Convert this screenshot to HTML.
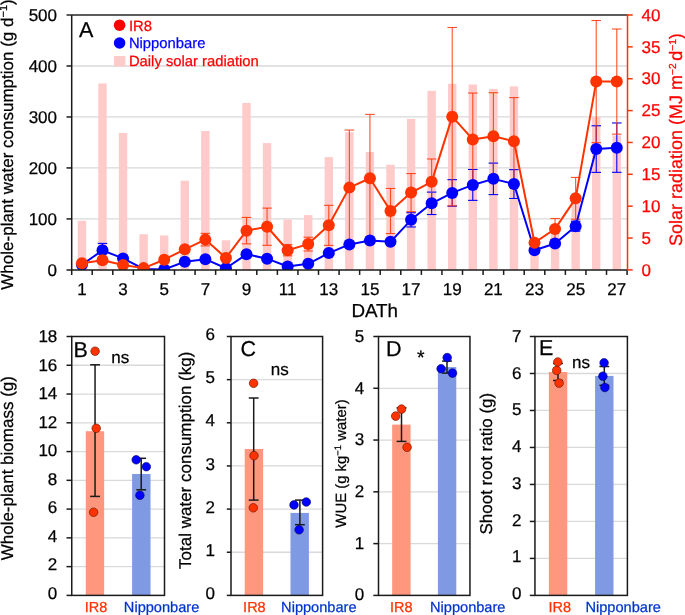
<!DOCTYPE html>
<html><head><meta charset="utf-8"><style>
html,body{margin:0;padding:0;background:#fff;width:685px;height:615px;overflow:hidden;}
body{position:relative;font-family:"Liberation Sans", sans-serif;}
svg text{text-rendering:geometricPrecision;}
</style></head><body>
<div style="position:absolute;left:0;top:0;width:685px;height:615px;will-change:transform"><svg width="685" height="615" viewBox="0 0 685 615" style="position:absolute;left:0;top:0;font-family:&quot;Liberation Sans&quot;, sans-serif"><defs><clipPath id="pa"><rect x="71.7" y="15.0" width="555.8" height="254.89999999999998"/></clipPath></defs><line x1="71.7" y1="218.92" x2="627.5" y2="218.92" stroke="#D9D9D9" stroke-width="1.3"/><line x1="71.7" y1="167.94" x2="627.5" y2="167.94" stroke="#D9D9D9" stroke-width="1.3"/><line x1="71.7" y1="116.96" x2="627.5" y2="116.96" stroke="#D9D9D9" stroke-width="1.3"/><line x1="71.7" y1="65.98" x2="627.5" y2="65.98" stroke="#D9D9D9" stroke-width="1.3"/><rect x="77.73" y="220.83" width="8.4" height="49.07" fill="#FFCACA"/><rect x="98.30" y="83.50" width="8.4" height="186.40" fill="#FFCACA"/><rect x="118.87" y="132.89" width="8.4" height="137.01" fill="#FFCACA"/><rect x="139.44" y="234.21" width="8.4" height="35.69" fill="#FFCACA"/><rect x="160.01" y="235.49" width="8.4" height="34.41" fill="#FFCACA"/><rect x="180.59" y="180.69" width="8.4" height="89.21" fill="#FFCACA"/><rect x="201.16" y="130.98" width="8.4" height="138.92" fill="#FFCACA"/><rect x="221.73" y="240.27" width="8.4" height="29.63" fill="#FFCACA"/><rect x="242.30" y="102.94" width="8.4" height="166.96" fill="#FFCACA"/><rect x="262.87" y="143.09" width="8.4" height="126.81" fill="#FFCACA"/><rect x="283.45" y="219.56" width="8.4" height="50.34" fill="#FFCACA"/><rect x="304.02" y="215.10" width="8.4" height="54.80" fill="#FFCACA"/><rect x="324.59" y="157.11" width="8.4" height="112.79" fill="#FFCACA"/><rect x="345.16" y="132.25" width="8.4" height="137.65" fill="#FFCACA"/><rect x="365.73" y="152.01" width="8.4" height="117.89" fill="#FFCACA"/><rect x="386.31" y="164.75" width="8.4" height="105.15" fill="#FFCACA"/><rect x="406.88" y="118.87" width="8.4" height="151.03" fill="#FFCACA"/><rect x="427.45" y="90.83" width="8.4" height="179.07" fill="#FFCACA"/><rect x="448.02" y="83.82" width="8.4" height="186.08" fill="#FFCACA"/><rect x="468.59" y="84.46" width="8.4" height="185.44" fill="#FFCACA"/><rect x="489.17" y="88.92" width="8.4" height="180.98" fill="#FFCACA"/><rect x="509.74" y="86.37" width="8.4" height="183.53" fill="#FFCACA"/><rect x="530.31" y="245.05" width="8.4" height="24.85" fill="#FFCACA"/><rect x="550.88" y="228.48" width="8.4" height="41.42" fill="#FFCACA"/><rect x="571.45" y="198.53" width="8.4" height="71.37" fill="#FFCACA"/><rect x="592.03" y="116.96" width="8.4" height="152.94" fill="#FFCACA"/><rect x="612.60" y="135.44" width="8.4" height="134.46" fill="#FFCACA"/><line x1="102.50" y1="243.39" x2="102.50" y2="257.26" stroke="#0000FF" stroke-width="1.1"/><line x1="97.70" y1="243.39" x2="107.30" y2="243.39" stroke="#0000FF" stroke-width="1.1"/><line x1="97.70" y1="257.26" x2="107.30" y2="257.26" stroke="#0000FF" stroke-width="1.1"/><line x1="411.08" y1="212.70" x2="411.08" y2="226.97" stroke="#0000FF" stroke-width="1.1"/><line x1="406.28" y1="212.70" x2="415.88" y2="212.70" stroke="#0000FF" stroke-width="1.1"/><line x1="406.28" y1="226.97" x2="415.88" y2="226.97" stroke="#0000FF" stroke-width="1.1"/><line x1="431.65" y1="192.10" x2="431.65" y2="214.54" stroke="#0000FF" stroke-width="1.1"/><line x1="426.85" y1="192.10" x2="436.45" y2="192.10" stroke="#0000FF" stroke-width="1.1"/><line x1="426.85" y1="214.54" x2="436.45" y2="214.54" stroke="#0000FF" stroke-width="1.1"/><line x1="452.22" y1="179.67" x2="452.22" y2="206.17" stroke="#0000FF" stroke-width="1.1"/><line x1="447.42" y1="179.67" x2="457.02" y2="179.67" stroke="#0000FF" stroke-width="1.1"/><line x1="447.42" y1="206.17" x2="457.02" y2="206.17" stroke="#0000FF" stroke-width="1.1"/><line x1="472.79" y1="169.47" x2="472.79" y2="200.36" stroke="#0000FF" stroke-width="1.1"/><line x1="467.99" y1="169.47" x2="477.59" y2="169.47" stroke="#0000FF" stroke-width="1.1"/><line x1="467.99" y1="200.36" x2="477.59" y2="200.36" stroke="#0000FF" stroke-width="1.1"/><line x1="493.37" y1="163.10" x2="493.37" y2="194.60" stroke="#0000FF" stroke-width="1.1"/><line x1="488.57" y1="163.10" x2="498.17" y2="163.10" stroke="#0000FF" stroke-width="1.1"/><line x1="488.57" y1="194.60" x2="498.17" y2="194.60" stroke="#0000FF" stroke-width="1.1"/><line x1="513.94" y1="169.62" x2="513.94" y2="198.48" stroke="#0000FF" stroke-width="1.1"/><line x1="509.14" y1="169.62" x2="518.74" y2="169.62" stroke="#0000FF" stroke-width="1.1"/><line x1="509.14" y1="198.48" x2="518.74" y2="198.48" stroke="#0000FF" stroke-width="1.1"/><line x1="575.65" y1="221.27" x2="575.65" y2="231.16" stroke="#0000FF" stroke-width="1.1"/><line x1="570.85" y1="221.27" x2="580.45" y2="221.27" stroke="#0000FF" stroke-width="1.1"/><line x1="570.85" y1="231.16" x2="580.45" y2="231.16" stroke="#0000FF" stroke-width="1.1"/><line x1="596.23" y1="125.78" x2="596.23" y2="172.38" stroke="#0000FF" stroke-width="1.1"/><line x1="591.43" y1="125.78" x2="601.03" y2="125.78" stroke="#0000FF" stroke-width="1.1"/><line x1="591.43" y1="172.38" x2="601.03" y2="172.38" stroke="#0000FF" stroke-width="1.1"/><line x1="616.80" y1="122.98" x2="616.80" y2="172.32" stroke="#0000FF" stroke-width="1.1"/><line x1="612.00" y1="122.98" x2="621.60" y2="122.98" stroke="#0000FF" stroke-width="1.1"/><line x1="612.00" y1="172.32" x2="621.60" y2="172.32" stroke="#0000FF" stroke-width="1.1"/><g stroke-opacity="0.85"><line x1="205.36" y1="233.35" x2="205.36" y2="245.89" stroke="#FF3300" stroke-width="1.1"/><line x1="200.56" y1="233.35" x2="210.16" y2="233.35" stroke="#FF3300" stroke-width="1.1"/><line x1="200.56" y1="245.89" x2="210.16" y2="245.89" stroke="#FF3300" stroke-width="1.1"/><line x1="246.50" y1="217.44" x2="246.50" y2="243.85" stroke="#FF3300" stroke-width="1.1"/><line x1="241.70" y1="217.44" x2="251.30" y2="217.44" stroke="#FF3300" stroke-width="1.1"/><line x1="241.70" y1="243.85" x2="251.30" y2="243.85" stroke="#FF3300" stroke-width="1.1"/><line x1="267.07" y1="208.11" x2="267.07" y2="245.33" stroke="#FF3300" stroke-width="1.1"/><line x1="262.27" y1="208.11" x2="271.87" y2="208.11" stroke="#FF3300" stroke-width="1.1"/><line x1="262.27" y1="245.33" x2="271.87" y2="245.33" stroke="#FF3300" stroke-width="1.1"/><line x1="287.65" y1="244.61" x2="287.65" y2="255.83" stroke="#FF3300" stroke-width="1.1"/><line x1="282.85" y1="244.61" x2="292.45" y2="244.61" stroke="#FF3300" stroke-width="1.1"/><line x1="282.85" y1="255.83" x2="292.45" y2="255.83" stroke="#FF3300" stroke-width="1.1"/><line x1="308.22" y1="237.22" x2="308.22" y2="250.99" stroke="#FF3300" stroke-width="1.1"/><line x1="303.42" y1="237.22" x2="313.02" y2="237.22" stroke="#FF3300" stroke-width="1.1"/><line x1="303.42" y1="250.99" x2="313.02" y2="250.99" stroke="#FF3300" stroke-width="1.1"/><line x1="328.79" y1="205.31" x2="328.79" y2="245.38" stroke="#FF3300" stroke-width="1.1"/><line x1="323.99" y1="205.31" x2="333.59" y2="205.31" stroke="#FF3300" stroke-width="1.1"/><line x1="323.99" y1="245.38" x2="333.59" y2="245.38" stroke="#FF3300" stroke-width="1.1"/><line x1="349.36" y1="130.06" x2="349.36" y2="245.17" stroke="#FF3300" stroke-width="1.1"/><line x1="344.56" y1="130.06" x2="354.16" y2="130.06" stroke="#FF3300" stroke-width="1.1"/><line x1="344.56" y1="245.17" x2="354.16" y2="245.17" stroke="#FF3300" stroke-width="1.1"/><line x1="369.93" y1="114.41" x2="369.93" y2="242.06" stroke="#FF3300" stroke-width="1.1"/><line x1="365.13" y1="114.41" x2="374.73" y2="114.41" stroke="#FF3300" stroke-width="1.1"/><line x1="365.13" y1="242.06" x2="374.73" y2="242.06" stroke="#FF3300" stroke-width="1.1"/><line x1="390.51" y1="188.48" x2="390.51" y2="233.55" stroke="#FF3300" stroke-width="1.1"/><line x1="385.71" y1="188.48" x2="395.31" y2="188.48" stroke="#FF3300" stroke-width="1.1"/><line x1="385.71" y1="233.55" x2="395.31" y2="233.55" stroke="#FF3300" stroke-width="1.1"/><line x1="411.08" y1="173.55" x2="411.08" y2="211.68" stroke="#FF3300" stroke-width="1.1"/><line x1="406.28" y1="173.55" x2="415.88" y2="173.55" stroke="#FF3300" stroke-width="1.1"/><line x1="406.28" y1="211.68" x2="415.88" y2="211.68" stroke="#FF3300" stroke-width="1.1"/><line x1="431.65" y1="158.97" x2="431.65" y2="204.75" stroke="#FF3300" stroke-width="1.1"/><line x1="426.85" y1="158.97" x2="436.45" y2="158.97" stroke="#FF3300" stroke-width="1.1"/><line x1="426.85" y1="204.75" x2="436.45" y2="204.75" stroke="#FF3300" stroke-width="1.1"/><line x1="452.22" y1="27.49" x2="452.22" y2="205.82" stroke="#FF3300" stroke-width="1.1"/><line x1="447.42" y1="27.49" x2="457.02" y2="27.49" stroke="#FF3300" stroke-width="1.1"/><line x1="447.42" y1="205.82" x2="457.02" y2="205.82" stroke="#FF3300" stroke-width="1.1"/><line x1="472.79" y1="93.05" x2="472.79" y2="185.83" stroke="#FF3300" stroke-width="1.1"/><line x1="467.99" y1="93.05" x2="477.59" y2="93.05" stroke="#FF3300" stroke-width="1.1"/><line x1="467.99" y1="185.83" x2="477.59" y2="185.83" stroke="#FF3300" stroke-width="1.1"/><line x1="493.37" y1="92.69" x2="493.37" y2="179.97" stroke="#FF3300" stroke-width="1.1"/><line x1="488.57" y1="92.69" x2="498.17" y2="92.69" stroke="#FF3300" stroke-width="1.1"/><line x1="488.57" y1="179.97" x2="498.17" y2="179.97" stroke="#FF3300" stroke-width="1.1"/><line x1="513.94" y1="97.59" x2="513.94" y2="184.76" stroke="#FF3300" stroke-width="1.1"/><line x1="509.14" y1="97.59" x2="518.74" y2="97.59" stroke="#FF3300" stroke-width="1.1"/><line x1="509.14" y1="184.76" x2="518.74" y2="184.76" stroke="#FF3300" stroke-width="1.1"/><line x1="555.08" y1="218.51" x2="555.08" y2="239.31" stroke="#FF3300" stroke-width="1.1"/><line x1="550.28" y1="218.51" x2="559.88" y2="218.51" stroke="#FF3300" stroke-width="1.1"/><line x1="550.28" y1="239.31" x2="559.88" y2="239.31" stroke="#FF3300" stroke-width="1.1"/><line x1="575.65" y1="177.42" x2="575.65" y2="219.23" stroke="#FF3300" stroke-width="1.1"/><line x1="570.85" y1="177.42" x2="580.45" y2="177.42" stroke="#FF3300" stroke-width="1.1"/><line x1="570.85" y1="219.23" x2="580.45" y2="219.23" stroke="#FF3300" stroke-width="1.1"/><line x1="596.23" y1="20.51" x2="596.23" y2="142.65" stroke="#FF3300" stroke-width="1.1"/><line x1="591.43" y1="20.51" x2="601.03" y2="20.51" stroke="#FF3300" stroke-width="1.1"/><line x1="591.43" y1="142.65" x2="601.03" y2="142.65" stroke="#FF3300" stroke-width="1.1"/><line x1="616.80" y1="29.02" x2="616.80" y2="134.14" stroke="#FF3300" stroke-width="1.1"/><line x1="612.00" y1="29.02" x2="621.60" y2="29.02" stroke="#FF3300" stroke-width="1.1"/><line x1="612.00" y1="134.14" x2="621.60" y2="134.14" stroke="#FF3300" stroke-width="1.1"/></g><g clip-path="url(#pa)"><polyline points="81.93,264.80 102.50,250.32 123.07,258.43 143.64,268.88 164.21,269.39 184.79,261.79 205.36,259.19 225.93,268.22 246.50,254.30 267.07,258.68 287.65,266.54 308.22,263.78 328.79,253.08 349.36,244.41 369.93,240.54 390.51,241.86 411.08,219.84 431.65,203.32 452.22,192.92 472.79,184.92 493.37,178.85 513.94,184.05 534.51,250.32 555.08,243.49 575.65,226.21 596.23,149.08 616.80,147.65" fill="none" stroke="#0000FF" stroke-width="2.0" stroke-linejoin="round"/><circle cx="81.93" cy="264.80" r="6" fill="#0000FF"/><circle cx="102.50" cy="250.32" r="6" fill="#0000FF"/><circle cx="123.07" cy="258.43" r="6" fill="#0000FF"/><circle cx="143.64" cy="268.88" r="6" fill="#0000FF"/><circle cx="164.21" cy="269.39" r="6" fill="#0000FF"/><circle cx="184.79" cy="261.79" r="6" fill="#0000FF"/><circle cx="205.36" cy="259.19" r="6" fill="#0000FF"/><circle cx="225.93" cy="268.22" r="6" fill="#0000FF"/><circle cx="246.50" cy="254.30" r="6" fill="#0000FF"/><circle cx="267.07" cy="258.68" r="6" fill="#0000FF"/><circle cx="287.65" cy="266.54" r="6" fill="#0000FF"/><circle cx="308.22" cy="263.78" r="6" fill="#0000FF"/><circle cx="328.79" cy="253.08" r="6" fill="#0000FF"/><circle cx="349.36" cy="244.41" r="6" fill="#0000FF"/><circle cx="369.93" cy="240.54" r="6" fill="#0000FF"/><circle cx="390.51" cy="241.86" r="6" fill="#0000FF"/><circle cx="411.08" cy="219.84" r="6" fill="#0000FF"/><circle cx="431.65" cy="203.32" r="6" fill="#0000FF"/><circle cx="452.22" cy="192.92" r="6" fill="#0000FF"/><circle cx="472.79" cy="184.92" r="6" fill="#0000FF"/><circle cx="493.37" cy="178.85" r="6" fill="#0000FF"/><circle cx="513.94" cy="184.05" r="6" fill="#0000FF"/><circle cx="534.51" cy="250.32" r="6" fill="#0000FF"/><circle cx="555.08" cy="243.49" r="6" fill="#0000FF"/><circle cx="575.65" cy="226.21" r="6" fill="#0000FF"/><circle cx="596.23" cy="149.08" r="6" fill="#0000FF"/><circle cx="616.80" cy="147.65" r="6" fill="#0000FF"/><polyline points="81.93,263.27 102.50,260.21 123.07,265.01 143.64,268.12 164.21,259.70 184.79,249.30 205.36,239.62 225.93,257.92 246.50,230.65 267.07,226.72 287.65,250.22 308.22,244.10 328.79,225.34 349.36,187.62 369.93,178.24 390.51,211.02 411.08,192.61 431.65,181.86 452.22,116.65 472.79,139.44 493.37,136.33 513.94,141.18 534.51,242.73 555.08,228.91 575.65,198.32 596.23,81.58 616.80,81.58" fill="none" stroke="#FF3300" stroke-width="2.0" stroke-linejoin="round"/><circle cx="81.93" cy="263.27" r="6" fill="#FF3300"/><circle cx="102.50" cy="260.21" r="6" fill="#FF3300"/><circle cx="123.07" cy="265.01" r="6" fill="#FF3300"/><circle cx="143.64" cy="268.12" r="6" fill="#FF3300"/><circle cx="164.21" cy="259.70" r="6" fill="#FF3300"/><circle cx="184.79" cy="249.30" r="6" fill="#FF3300"/><circle cx="205.36" cy="239.62" r="6" fill="#FF3300"/><circle cx="225.93" cy="257.92" r="6" fill="#FF3300"/><circle cx="246.50" cy="230.65" r="6" fill="#FF3300"/><circle cx="267.07" cy="226.72" r="6" fill="#FF3300"/><circle cx="287.65" cy="250.22" r="6" fill="#FF3300"/><circle cx="308.22" cy="244.10" r="6" fill="#FF3300"/><circle cx="328.79" cy="225.34" r="6" fill="#FF3300"/><circle cx="349.36" cy="187.62" r="6" fill="#FF3300"/><circle cx="369.93" cy="178.24" r="6" fill="#FF3300"/><circle cx="390.51" cy="211.02" r="6" fill="#FF3300"/><circle cx="411.08" cy="192.61" r="6" fill="#FF3300"/><circle cx="431.65" cy="181.86" r="6" fill="#FF3300"/><circle cx="452.22" cy="116.65" r="6" fill="#FF3300"/><circle cx="472.79" cy="139.44" r="6" fill="#FF3300"/><circle cx="493.37" cy="136.33" r="6" fill="#FF3300"/><circle cx="513.94" cy="141.18" r="6" fill="#FF3300"/><circle cx="534.51" cy="242.73" r="6" fill="#FF3300"/><circle cx="555.08" cy="228.91" r="6" fill="#FF3300"/><circle cx="575.65" cy="198.32" r="6" fill="#FF3300"/><circle cx="596.23" cy="81.58" r="6" fill="#FF3300"/><circle cx="616.80" cy="81.58" r="6" fill="#FF3300"/></g><line x1="66.5" y1="15.0" x2="627.5" y2="15.0" stroke="#262626" stroke-width="1.5"/><line x1="71.7" y1="15.0" x2="71.7" y2="274.9" stroke="#1a1a1a" stroke-width="1.5"/><line x1="66.5" y1="269.9" x2="627.5" y2="269.9" stroke="#1a1a1a" stroke-width="1.5"/><line x1="66.5" y1="218.92" x2="71.7" y2="218.92" stroke="#1a1a1a" stroke-width="1.5"/><line x1="66.5" y1="167.94" x2="71.7" y2="167.94" stroke="#1a1a1a" stroke-width="1.5"/><line x1="66.5" y1="116.96" x2="71.7" y2="116.96" stroke="#1a1a1a" stroke-width="1.5"/><line x1="66.5" y1="65.98" x2="71.7" y2="65.98" stroke="#1a1a1a" stroke-width="1.5"/><line x1="92.21" y1="269.9" x2="92.21" y2="274.9" stroke="#1a1a1a" stroke-width="1.5"/><line x1="112.78" y1="269.9" x2="112.78" y2="274.9" stroke="#1a1a1a" stroke-width="1.5"/><line x1="133.36" y1="269.9" x2="133.36" y2="274.9" stroke="#1a1a1a" stroke-width="1.5"/><line x1="153.93" y1="269.9" x2="153.93" y2="274.9" stroke="#1a1a1a" stroke-width="1.5"/><line x1="174.50" y1="269.9" x2="174.50" y2="274.9" stroke="#1a1a1a" stroke-width="1.5"/><line x1="195.07" y1="269.9" x2="195.07" y2="274.9" stroke="#1a1a1a" stroke-width="1.5"/><line x1="215.64" y1="269.9" x2="215.64" y2="274.9" stroke="#1a1a1a" stroke-width="1.5"/><line x1="236.22" y1="269.9" x2="236.22" y2="274.9" stroke="#1a1a1a" stroke-width="1.5"/><line x1="256.79" y1="269.9" x2="256.79" y2="274.9" stroke="#1a1a1a" stroke-width="1.5"/><line x1="277.36" y1="269.9" x2="277.36" y2="274.9" stroke="#1a1a1a" stroke-width="1.5"/><line x1="297.93" y1="269.9" x2="297.93" y2="274.9" stroke="#1a1a1a" stroke-width="1.5"/><line x1="318.50" y1="269.9" x2="318.50" y2="274.9" stroke="#1a1a1a" stroke-width="1.5"/><line x1="339.08" y1="269.9" x2="339.08" y2="274.9" stroke="#1a1a1a" stroke-width="1.5"/><line x1="359.65" y1="269.9" x2="359.65" y2="274.9" stroke="#1a1a1a" stroke-width="1.5"/><line x1="380.22" y1="269.9" x2="380.22" y2="274.9" stroke="#1a1a1a" stroke-width="1.5"/><line x1="400.79" y1="269.9" x2="400.79" y2="274.9" stroke="#1a1a1a" stroke-width="1.5"/><line x1="421.36" y1="269.9" x2="421.36" y2="274.9" stroke="#1a1a1a" stroke-width="1.5"/><line x1="441.94" y1="269.9" x2="441.94" y2="274.9" stroke="#1a1a1a" stroke-width="1.5"/><line x1="462.51" y1="269.9" x2="462.51" y2="274.9" stroke="#1a1a1a" stroke-width="1.5"/><line x1="483.08" y1="269.9" x2="483.08" y2="274.9" stroke="#1a1a1a" stroke-width="1.5"/><line x1="503.65" y1="269.9" x2="503.65" y2="274.9" stroke="#1a1a1a" stroke-width="1.5"/><line x1="524.22" y1="269.9" x2="524.22" y2="274.9" stroke="#1a1a1a" stroke-width="1.5"/><line x1="544.80" y1="269.9" x2="544.80" y2="274.9" stroke="#1a1a1a" stroke-width="1.5"/><line x1="565.37" y1="269.9" x2="565.37" y2="274.9" stroke="#1a1a1a" stroke-width="1.5"/><line x1="585.94" y1="269.9" x2="585.94" y2="274.9" stroke="#1a1a1a" stroke-width="1.5"/><line x1="606.51" y1="269.9" x2="606.51" y2="274.9" stroke="#1a1a1a" stroke-width="1.5"/><line x1="627.08" y1="269.9" x2="627.08" y2="274.9" stroke="#1a1a1a" stroke-width="1.5"/><line x1="627.5" y1="14.3" x2="627.5" y2="270.59999999999997" stroke="#FF3300" stroke-width="1.5"/><line x1="627.5" y1="269.90" x2="632.7" y2="269.90" stroke="#FF3300" stroke-width="1.5"/><line x1="627.5" y1="238.04" x2="632.7" y2="238.04" stroke="#FF3300" stroke-width="1.5"/><line x1="627.5" y1="206.17" x2="632.7" y2="206.17" stroke="#FF3300" stroke-width="1.5"/><line x1="627.5" y1="174.31" x2="632.7" y2="174.31" stroke="#FF3300" stroke-width="1.5"/><line x1="627.5" y1="142.45" x2="632.7" y2="142.45" stroke="#FF3300" stroke-width="1.5"/><line x1="627.5" y1="110.59" x2="632.7" y2="110.59" stroke="#FF3300" stroke-width="1.5"/><line x1="627.5" y1="78.72" x2="632.7" y2="78.72" stroke="#FF3300" stroke-width="1.5"/><line x1="627.5" y1="46.86" x2="632.7" y2="46.86" stroke="#FF3300" stroke-width="1.5"/><line x1="627.5" y1="15.00" x2="632.7" y2="15.00" stroke="#FF3300" stroke-width="1.5"/><text x="57.0" y="275.60" font-size="17" text-anchor="end" fill="#000" stroke="#000" stroke-width="0.25" stroke-linejoin="round">0</text><text x="57.0" y="224.62" font-size="17" text-anchor="end" fill="#000" stroke="#000" stroke-width="0.25" stroke-linejoin="round">100</text><text x="57.0" y="173.64" font-size="17" text-anchor="end" fill="#000" stroke="#000" stroke-width="0.25" stroke-linejoin="round">200</text><text x="57.0" y="122.66" font-size="17" text-anchor="end" fill="#000" stroke="#000" stroke-width="0.25" stroke-linejoin="round">300</text><text x="57.0" y="71.68" font-size="17" text-anchor="end" fill="#000" stroke="#000" stroke-width="0.25" stroke-linejoin="round">400</text><text x="57.0" y="20.70" font-size="17" text-anchor="end" fill="#000" stroke="#000" stroke-width="0.25" stroke-linejoin="round">500</text><text x="641.5" y="275.60" font-size="17" fill="#FF0000" stroke="#FF0000" stroke-width="0.25" stroke-linejoin="round">0</text><text x="641.5" y="243.74" font-size="17" fill="#FF0000" stroke="#FF0000" stroke-width="0.25" stroke-linejoin="round">5</text><text x="641.5" y="211.87" font-size="17" fill="#FF0000" stroke="#FF0000" stroke-width="0.25" stroke-linejoin="round">10</text><text x="641.5" y="180.01" font-size="17" fill="#FF0000" stroke="#FF0000" stroke-width="0.25" stroke-linejoin="round">15</text><text x="641.5" y="148.15" font-size="17" fill="#FF0000" stroke="#FF0000" stroke-width="0.25" stroke-linejoin="round">20</text><text x="641.5" y="116.29" font-size="17" fill="#FF0000" stroke="#FF0000" stroke-width="0.25" stroke-linejoin="round">25</text><text x="641.5" y="84.42" font-size="17" fill="#FF0000" stroke="#FF0000" stroke-width="0.25" stroke-linejoin="round">30</text><text x="641.5" y="52.56" font-size="17" fill="#FF0000" stroke="#FF0000" stroke-width="0.25" stroke-linejoin="round">35</text><text x="641.5" y="20.70" font-size="17" fill="#FF0000" stroke="#FF0000" stroke-width="0.25" stroke-linejoin="round">40</text><text x="81.93" y="295.1" font-size="17" text-anchor="middle" fill="#000" stroke="#000" stroke-width="0.25" stroke-linejoin="round">1</text><text x="123.07" y="295.1" font-size="17" text-anchor="middle" fill="#000" stroke="#000" stroke-width="0.25" stroke-linejoin="round">3</text><text x="164.21" y="295.1" font-size="17" text-anchor="middle" fill="#000" stroke="#000" stroke-width="0.25" stroke-linejoin="round">5</text><text x="205.36" y="295.1" font-size="17" text-anchor="middle" fill="#000" stroke="#000" stroke-width="0.25" stroke-linejoin="round">7</text><text x="246.50" y="295.1" font-size="17" text-anchor="middle" fill="#000" stroke="#000" stroke-width="0.25" stroke-linejoin="round">9</text><text x="287.65" y="295.1" font-size="17" text-anchor="middle" fill="#000" stroke="#000" stroke-width="0.25" stroke-linejoin="round">11</text><text x="328.79" y="295.1" font-size="17" text-anchor="middle" fill="#000" stroke="#000" stroke-width="0.25" stroke-linejoin="round">13</text><text x="369.93" y="295.1" font-size="17" text-anchor="middle" fill="#000" stroke="#000" stroke-width="0.25" stroke-linejoin="round">15</text><text x="411.08" y="295.1" font-size="17" text-anchor="middle" fill="#000" stroke="#000" stroke-width="0.25" stroke-linejoin="round">17</text><text x="452.22" y="295.1" font-size="17" text-anchor="middle" fill="#000" stroke="#000" stroke-width="0.25" stroke-linejoin="round">19</text><text x="493.37" y="295.1" font-size="17" text-anchor="middle" fill="#000" stroke="#000" stroke-width="0.25" stroke-linejoin="round">21</text><text x="534.51" y="295.1" font-size="17" text-anchor="middle" fill="#000" stroke="#000" stroke-width="0.25" stroke-linejoin="round">23</text><text x="575.65" y="295.1" font-size="17" text-anchor="middle" fill="#000" stroke="#000" stroke-width="0.25" stroke-linejoin="round">25</text><text x="616.80" y="295.1" font-size="17" text-anchor="middle" fill="#000" stroke="#000" stroke-width="0.25" stroke-linejoin="round">27</text><text x="374.7" y="316.8" font-size="18.8" text-anchor="middle" fill="#000" stroke="#000" stroke-width="0.25" stroke-linejoin="round">DATh</text><text transform="translate(13.2,144.5) rotate(-90)" font-size="17" text-anchor="middle" fill="#000" stroke="#000" stroke-width="0.25" stroke-linejoin="round">Whole-plant water consumption (g d<tspan font-size="11" dy="-6.5">−1</tspan><tspan dy="6.5">)</tspan></text><text transform="translate(682.3,246.0) rotate(-90)" font-size="18" fill="#FF0000" stroke="#FF0000" stroke-width="0.25" stroke-linejoin="round">Solar radiation (MJ m<tspan font-size="10.2" dy="-6.8">−2</tspan><tspan dy="6.8" dx="-2.5"> d</tspan><tspan font-size="10.2" dy="-6.8">−1</tspan><tspan dy="6.8">)</tspan></text><text x="79.0" y="36.9" font-size="21.5" fill="#000" stroke="#000" stroke-width="0.25" stroke-linejoin="round">A</text><circle cx="119.6" cy="25.2" r="5.8" fill="#FF0000"/><text x="128.9" y="30.6" font-size="14.8" fill="#FF0000" stroke="#FF0000" stroke-width="0.25" stroke-linejoin="round">IR8</text><circle cx="119.6" cy="43.0" r="5.8" fill="#0000FF"/><text x="128.9" y="48.3" font-size="14.8" fill="#0000FF" stroke="#0000FF" stroke-width="0.25" stroke-linejoin="round">Nipponbare</text><rect x="114" y="56" width="11.4" height="10.4" fill="#FFCACA"/><text x="128.9" y="65.8" font-size="14.8" fill="#FF0000" stroke="#FF0000" stroke-width="0.25" stroke-linejoin="round">Daily solar radiation</text><line x1="71.75" y1="566.63" x2="164.5" y2="566.63" stroke="#D9D9D9" stroke-width="1.3"/><line x1="71.75" y1="537.87" x2="164.5" y2="537.87" stroke="#D9D9D9" stroke-width="1.3"/><line x1="71.75" y1="509.10" x2="164.5" y2="509.10" stroke="#D9D9D9" stroke-width="1.3"/><line x1="71.75" y1="480.33" x2="164.5" y2="480.33" stroke="#D9D9D9" stroke-width="1.3"/><line x1="71.75" y1="451.57" x2="164.5" y2="451.57" stroke="#D9D9D9" stroke-width="1.3"/><line x1="71.75" y1="422.80" x2="164.5" y2="422.80" stroke="#D9D9D9" stroke-width="1.3"/><line x1="71.75" y1="394.03" x2="164.5" y2="394.03" stroke="#D9D9D9" stroke-width="1.3"/><line x1="71.75" y1="365.27" x2="164.5" y2="365.27" stroke="#D9D9D9" stroke-width="1.3"/><rect x="85.74" y="431.20" width="18.4" height="164.20" fill="#FF977E"/><rect x="132.11" y="474.00" width="18.4" height="121.40" fill="#7F9AE3"/><line x1="95.05" y1="364.80" x2="95.05" y2="496.40" stroke="#1a1a1a" stroke-width="1.5"/><line x1="90.15" y1="364.80" x2="99.95" y2="364.80" stroke="#1a1a1a" stroke-width="1.5"/><line x1="90.15" y1="496.40" x2="99.95" y2="496.40" stroke="#1a1a1a" stroke-width="1.5"/><line x1="141.20" y1="458.30" x2="141.20" y2="489.80" stroke="#1a1a1a" stroke-width="1.5"/><line x1="136.30" y1="458.30" x2="146.10" y2="458.30" stroke="#1a1a1a" stroke-width="1.5"/><line x1="136.30" y1="489.80" x2="146.10" y2="489.80" stroke="#1a1a1a" stroke-width="1.5"/><circle cx="95.10" cy="351.20" r="4.3" fill="#FF3300" stroke="#5a1000" stroke-width="0.6"/><circle cx="96.20" cy="428.30" r="4.3" fill="#FF3300" stroke="#5a1000" stroke-width="0.6"/><circle cx="93.60" cy="512.20" r="4.3" fill="#FF3300" stroke="#5a1000" stroke-width="0.6"/><circle cx="136.20" cy="459.80" r="4.3" fill="#0000FF" stroke="#00005a" stroke-width="0.6"/><circle cx="146.30" cy="466.70" r="4.3" fill="#0000FF" stroke="#00005a" stroke-width="0.6"/><circle cx="139.90" cy="495.30" r="4.3" fill="#0000FF" stroke="#00005a" stroke-width="0.6"/><rect x="71.75" y="336.5" width="92.75" height="258.90" fill="none" stroke="#1a1a1a" stroke-width="1.5"/><line x1="66.5" y1="595.40" x2="71.75" y2="595.40" stroke="#1a1a1a" stroke-width="1.5"/><text x="57.30" y="599.05" font-size="17" text-anchor="end" fill="#000" stroke="#000" stroke-width="0.25" stroke-linejoin="round">0</text><line x1="66.5" y1="566.63" x2="71.75" y2="566.63" stroke="#1a1a1a" stroke-width="1.5"/><text x="57.30" y="570.48" font-size="17" text-anchor="end" fill="#000" stroke="#000" stroke-width="0.25" stroke-linejoin="round">2</text><line x1="66.5" y1="537.87" x2="71.75" y2="537.87" stroke="#1a1a1a" stroke-width="1.5"/><text x="57.30" y="541.92" font-size="17" text-anchor="end" fill="#000" stroke="#000" stroke-width="0.25" stroke-linejoin="round">4</text><line x1="66.5" y1="509.10" x2="71.75" y2="509.10" stroke="#1a1a1a" stroke-width="1.5"/><text x="57.30" y="513.35" font-size="17" text-anchor="end" fill="#000" stroke="#000" stroke-width="0.25" stroke-linejoin="round">6</text><line x1="66.5" y1="480.33" x2="71.75" y2="480.33" stroke="#1a1a1a" stroke-width="1.5"/><text x="57.30" y="484.78" font-size="17" text-anchor="end" fill="#000" stroke="#000" stroke-width="0.25" stroke-linejoin="round">8</text><line x1="66.5" y1="451.57" x2="71.75" y2="451.57" stroke="#1a1a1a" stroke-width="1.5"/><text x="57.30" y="456.22" font-size="17" text-anchor="end" fill="#000" stroke="#000" stroke-width="0.25" stroke-linejoin="round">10</text><line x1="66.5" y1="422.80" x2="71.75" y2="422.80" stroke="#1a1a1a" stroke-width="1.5"/><text x="57.30" y="427.65" font-size="17" text-anchor="end" fill="#000" stroke="#000" stroke-width="0.25" stroke-linejoin="round">12</text><line x1="66.5" y1="394.03" x2="71.75" y2="394.03" stroke="#1a1a1a" stroke-width="1.5"/><text x="57.30" y="399.08" font-size="17" text-anchor="end" fill="#000" stroke="#000" stroke-width="0.25" stroke-linejoin="round">14</text><line x1="66.5" y1="365.27" x2="71.75" y2="365.27" stroke="#1a1a1a" stroke-width="1.5"/><text x="57.30" y="370.52" font-size="17" text-anchor="end" fill="#000" stroke="#000" stroke-width="0.25" stroke-linejoin="round">16</text><line x1="66.5" y1="336.50" x2="71.75" y2="336.50" stroke="#1a1a1a" stroke-width="1.5"/><text x="57.30" y="341.95" font-size="17" text-anchor="end" fill="#000" stroke="#000" stroke-width="0.25" stroke-linejoin="round">18</text><text x="73.5" y="356.8" font-size="21.5" fill="#000" stroke="#000" stroke-width="0.25" stroke-linejoin="round">B</text><text x="111.2" y="362.5" font-size="17" fill="#000" stroke="#000" stroke-width="0.25" stroke-linejoin="round">ns</text><text x="96.04" y="611.6" font-size="14.5" text-anchor="middle" fill="#FF3300" stroke="#FF3300" stroke-width="0.25" stroke-linejoin="round">IR8</text><text x="123.85" y="611.6" font-size="14.6" fill="#0033CC" stroke="#0033CC" stroke-width="0.25" stroke-linejoin="round">Nipponbare</text><text transform="translate(13.2,468.2) rotate(-90)" font-size="17" text-anchor="middle" fill="#000" stroke="#000" stroke-width="0.25" stroke-linejoin="round">Whole-plant biomass (g)</text><line x1="231.0" y1="552.25" x2="322.6" y2="552.25" stroke="#D9D9D9" stroke-width="1.3"/><line x1="231.0" y1="509.10" x2="322.6" y2="509.10" stroke="#D9D9D9" stroke-width="1.3"/><line x1="231.0" y1="465.95" x2="322.6" y2="465.95" stroke="#D9D9D9" stroke-width="1.3"/><line x1="231.0" y1="422.80" x2="322.6" y2="422.80" stroke="#D9D9D9" stroke-width="1.3"/><line x1="231.0" y1="379.65" x2="322.6" y2="379.65" stroke="#D9D9D9" stroke-width="1.3"/><rect x="244.70" y="449.00" width="18.4" height="146.40" fill="#FF977E"/><rect x="290.50" y="512.90" width="18.4" height="82.50" fill="#7F9AE3"/><line x1="253.70" y1="398.00" x2="253.70" y2="500.10" stroke="#1a1a1a" stroke-width="1.5"/><line x1="248.80" y1="398.00" x2="258.60" y2="398.00" stroke="#1a1a1a" stroke-width="1.5"/><line x1="248.80" y1="500.10" x2="258.60" y2="500.10" stroke="#1a1a1a" stroke-width="1.5"/><line x1="299.90" y1="500.10" x2="299.90" y2="524.70" stroke="#1a1a1a" stroke-width="1.5"/><line x1="295.00" y1="500.10" x2="304.80" y2="500.10" stroke="#1a1a1a" stroke-width="1.5"/><line x1="295.00" y1="524.70" x2="304.80" y2="524.70" stroke="#1a1a1a" stroke-width="1.5"/><circle cx="253.60" cy="383.30" r="4.3" fill="#FF3300" stroke="#5a1000" stroke-width="0.6"/><circle cx="254.00" cy="455.60" r="4.3" fill="#FF3300" stroke="#5a1000" stroke-width="0.6"/><circle cx="253.30" cy="507.80" r="4.3" fill="#FF3300" stroke="#5a1000" stroke-width="0.6"/><circle cx="294.00" cy="504.90" r="4.3" fill="#0000FF" stroke="#00005a" stroke-width="0.6"/><circle cx="306.30" cy="502.00" r="4.3" fill="#0000FF" stroke="#00005a" stroke-width="0.6"/><circle cx="299.10" cy="529.80" r="4.3" fill="#0000FF" stroke="#00005a" stroke-width="0.6"/><rect x="231.0" y="336.5" width="91.60" height="258.90" fill="none" stroke="#1a1a1a" stroke-width="1.5"/><line x1="226.8" y1="595.40" x2="231.0" y2="595.40" stroke="#1a1a1a" stroke-width="1.5"/><text x="214.90" y="599.05" font-size="17" text-anchor="end" fill="#000" stroke="#000" stroke-width="0.25" stroke-linejoin="round">0</text><line x1="226.8" y1="552.25" x2="231.0" y2="552.25" stroke="#1a1a1a" stroke-width="1.5"/><text x="214.90" y="555.90" font-size="17" text-anchor="end" fill="#000" stroke="#000" stroke-width="0.25" stroke-linejoin="round">1</text><line x1="226.8" y1="509.10" x2="231.0" y2="509.10" stroke="#1a1a1a" stroke-width="1.5"/><text x="214.90" y="512.75" font-size="17" text-anchor="end" fill="#000" stroke="#000" stroke-width="0.25" stroke-linejoin="round">2</text><line x1="226.8" y1="465.95" x2="231.0" y2="465.95" stroke="#1a1a1a" stroke-width="1.5"/><text x="214.90" y="469.60" font-size="17" text-anchor="end" fill="#000" stroke="#000" stroke-width="0.25" stroke-linejoin="round">3</text><line x1="226.8" y1="422.80" x2="231.0" y2="422.80" stroke="#1a1a1a" stroke-width="1.5"/><text x="214.90" y="426.45" font-size="17" text-anchor="end" fill="#000" stroke="#000" stroke-width="0.25" stroke-linejoin="round">4</text><line x1="226.8" y1="379.65" x2="231.0" y2="379.65" stroke="#1a1a1a" stroke-width="1.5"/><text x="214.90" y="383.30" font-size="17" text-anchor="end" fill="#000" stroke="#000" stroke-width="0.25" stroke-linejoin="round">5</text><line x1="226.8" y1="336.50" x2="231.0" y2="336.50" stroke="#1a1a1a" stroke-width="1.5"/><text x="214.90" y="340.15" font-size="17" text-anchor="end" fill="#000" stroke="#000" stroke-width="0.25" stroke-linejoin="round">6</text><text x="240.4" y="355.9" font-size="21.5" fill="#000" stroke="#000" stroke-width="0.25" stroke-linejoin="round">C</text><text x="270.7" y="374.9" font-size="17" fill="#000" stroke="#000" stroke-width="0.25" stroke-linejoin="round">ns</text><text x="254.40" y="611.6" font-size="14.5" text-anchor="middle" fill="#FF3300" stroke="#FF3300" stroke-width="0.25" stroke-linejoin="round">IR8</text><text x="281.10" y="611.6" font-size="14.6" fill="#0033CC" stroke="#0033CC" stroke-width="0.25" stroke-linejoin="round">Nipponbare</text><text transform="translate(191.4,460.3) rotate(-90)" font-size="17" text-anchor="middle" fill="#000" stroke="#000" stroke-width="0.25" stroke-linejoin="round">Total water consumption (kg)</text><line x1="378.5" y1="543.62" x2="469.95" y2="543.62" stroke="#D9D9D9" stroke-width="1.3"/><line x1="378.5" y1="491.84" x2="469.95" y2="491.84" stroke="#D9D9D9" stroke-width="1.3"/><line x1="378.5" y1="440.06" x2="469.95" y2="440.06" stroke="#D9D9D9" stroke-width="1.3"/><line x1="378.5" y1="388.28" x2="469.95" y2="388.28" stroke="#D9D9D9" stroke-width="1.3"/><rect x="392.16" y="424.60" width="18.4" height="170.80" fill="#FF977E"/><rect x="437.89" y="367.10" width="18.4" height="228.30" fill="#7F9AE3"/><line x1="401.50" y1="407.80" x2="401.50" y2="441.40" stroke="#1a1a1a" stroke-width="1.5"/><line x1="396.60" y1="407.80" x2="406.40" y2="407.80" stroke="#1a1a1a" stroke-width="1.5"/><line x1="396.60" y1="441.40" x2="406.40" y2="441.40" stroke="#1a1a1a" stroke-width="1.5"/><line x1="447.00" y1="361.10" x2="447.00" y2="373.10" stroke="#1a1a1a" stroke-width="1.5"/><line x1="442.10" y1="361.10" x2="451.90" y2="361.10" stroke="#1a1a1a" stroke-width="1.5"/><line x1="442.10" y1="373.10" x2="451.90" y2="373.10" stroke="#1a1a1a" stroke-width="1.5"/><circle cx="401.50" cy="409.10" r="4.3" fill="#FF3300" stroke="#5a1000" stroke-width="0.6"/><circle cx="395.70" cy="416.10" r="4.3" fill="#FF3300" stroke="#5a1000" stroke-width="0.6"/><circle cx="407.10" cy="447.30" r="4.3" fill="#FF3300" stroke="#5a1000" stroke-width="0.6"/><circle cx="447.20" cy="357.60" r="4.3" fill="#0000FF" stroke="#00005a" stroke-width="0.6"/><circle cx="441.10" cy="368.70" r="4.3" fill="#0000FF" stroke="#00005a" stroke-width="0.6"/><circle cx="452.50" cy="373.10" r="4.3" fill="#0000FF" stroke="#00005a" stroke-width="0.6"/><rect x="378.5" y="336.5" width="91.45" height="258.90" fill="none" stroke="#1a1a1a" stroke-width="1.5"/><line x1="373.3" y1="595.40" x2="378.5" y2="595.40" stroke="#1a1a1a" stroke-width="1.5"/><text x="364.10" y="600.40" font-size="17" text-anchor="end" fill="#000" stroke="#000" stroke-width="0.25" stroke-linejoin="round">0</text><line x1="373.3" y1="543.62" x2="378.5" y2="543.62" stroke="#1a1a1a" stroke-width="1.5"/><text x="364.10" y="548.71" font-size="17" text-anchor="end" fill="#000" stroke="#000" stroke-width="0.25" stroke-linejoin="round">1</text><line x1="373.3" y1="491.84" x2="378.5" y2="491.84" stroke="#1a1a1a" stroke-width="1.5"/><text x="364.10" y="497.02" font-size="17" text-anchor="end" fill="#000" stroke="#000" stroke-width="0.25" stroke-linejoin="round">2</text><line x1="373.3" y1="440.06" x2="378.5" y2="440.06" stroke="#1a1a1a" stroke-width="1.5"/><text x="364.10" y="445.33" font-size="17" text-anchor="end" fill="#000" stroke="#000" stroke-width="0.25" stroke-linejoin="round">3</text><line x1="373.3" y1="388.28" x2="378.5" y2="388.28" stroke="#1a1a1a" stroke-width="1.5"/><text x="364.10" y="393.64" font-size="17" text-anchor="end" fill="#000" stroke="#000" stroke-width="0.25" stroke-linejoin="round">4</text><line x1="373.3" y1="336.50" x2="378.5" y2="336.50" stroke="#1a1a1a" stroke-width="1.5"/><text x="364.10" y="341.95" font-size="17" text-anchor="end" fill="#000" stroke="#000" stroke-width="0.25" stroke-linejoin="round">5</text><text x="386.0" y="355.8" font-size="21.5" fill="#000" stroke="#000" stroke-width="0.25" stroke-linejoin="round">D</text><text x="416.9" y="363.9" font-size="19.5" fill="#000" stroke="#000" stroke-width="0.25" stroke-linejoin="round">*</text><text x="401.36" y="611.6" font-size="14.5" text-anchor="middle" fill="#FF3300" stroke="#FF3300" stroke-width="0.25" stroke-linejoin="round">IR8</text><text x="430.00" y="611.6" font-size="14.6" fill="#0033CC" stroke="#0033CC" stroke-width="0.25" stroke-linejoin="round">Nipponbare</text><text transform="translate(346.3,463.5) rotate(-90)" font-size="14.9" text-anchor="middle" fill="#000" stroke="#000" stroke-width="0.25" stroke-linejoin="round">WUE (g kg<tspan font-size="9.5" dy="-5.5">−1</tspan><tspan dy="5.5"> water)</tspan></text><line x1="534.95" y1="558.41" x2="627.4" y2="558.41" stroke="#D9D9D9" stroke-width="1.3"/><line x1="534.95" y1="521.43" x2="627.4" y2="521.43" stroke="#D9D9D9" stroke-width="1.3"/><line x1="534.95" y1="484.44" x2="627.4" y2="484.44" stroke="#D9D9D9" stroke-width="1.3"/><line x1="534.95" y1="447.46" x2="627.4" y2="447.46" stroke="#D9D9D9" stroke-width="1.3"/><line x1="534.95" y1="410.47" x2="627.4" y2="410.47" stroke="#D9D9D9" stroke-width="1.3"/><line x1="534.95" y1="373.49" x2="627.4" y2="373.49" stroke="#D9D9D9" stroke-width="1.3"/><rect x="548.86" y="372.00" width="18.4" height="223.40" fill="#FF977E"/><rect x="595.09" y="375.90" width="18.4" height="219.50" fill="#7F9AE3"/><line x1="558.00" y1="363.50" x2="558.00" y2="380.50" stroke="#1a1a1a" stroke-width="1.5"/><line x1="553.10" y1="363.50" x2="562.90" y2="363.50" stroke="#1a1a1a" stroke-width="1.5"/><line x1="553.10" y1="380.50" x2="562.90" y2="380.50" stroke="#1a1a1a" stroke-width="1.5"/><line x1="604.30" y1="366.50" x2="604.30" y2="385.30" stroke="#1a1a1a" stroke-width="1.5"/><line x1="599.40" y1="366.50" x2="609.20" y2="366.50" stroke="#1a1a1a" stroke-width="1.5"/><line x1="599.40" y1="385.30" x2="609.20" y2="385.30" stroke="#1a1a1a" stroke-width="1.5"/><circle cx="557.80" cy="362.00" r="4.3" fill="#FF3300" stroke="#5a1000" stroke-width="0.6"/><circle cx="556.70" cy="370.40" r="4.3" fill="#FF3300" stroke="#5a1000" stroke-width="0.6"/><circle cx="559.10" cy="383.10" r="4.3" fill="#FF3300" stroke="#5a1000" stroke-width="0.6"/><circle cx="604.10" cy="362.80" r="4.3" fill="#0000FF" stroke="#00005a" stroke-width="0.6"/><circle cx="602.90" cy="376.20" r="4.3" fill="#0000FF" stroke="#00005a" stroke-width="0.6"/><circle cx="604.90" cy="387.50" r="4.3" fill="#0000FF" stroke="#00005a" stroke-width="0.6"/><rect x="534.95" y="336.5" width="92.45" height="258.90" fill="none" stroke="#1a1a1a" stroke-width="1.5"/><line x1="529.8000000000001" y1="595.40" x2="534.95" y2="595.40" stroke="#1a1a1a" stroke-width="1.5"/><text x="521.40" y="599.05" font-size="17" text-anchor="end" fill="#000" stroke="#000" stroke-width="0.25" stroke-linejoin="round">0</text><line x1="529.8000000000001" y1="558.41" x2="534.95" y2="558.41" stroke="#1a1a1a" stroke-width="1.5"/><text x="521.40" y="562.32" font-size="17" text-anchor="end" fill="#000" stroke="#000" stroke-width="0.25" stroke-linejoin="round">1</text><line x1="529.8000000000001" y1="521.43" x2="534.95" y2="521.43" stroke="#1a1a1a" stroke-width="1.5"/><text x="521.40" y="525.59" font-size="17" text-anchor="end" fill="#000" stroke="#000" stroke-width="0.25" stroke-linejoin="round">2</text><line x1="529.8000000000001" y1="484.44" x2="534.95" y2="484.44" stroke="#1a1a1a" stroke-width="1.5"/><text x="521.40" y="488.86" font-size="17" text-anchor="end" fill="#000" stroke="#000" stroke-width="0.25" stroke-linejoin="round">3</text><line x1="529.8000000000001" y1="447.46" x2="534.95" y2="447.46" stroke="#1a1a1a" stroke-width="1.5"/><text x="521.40" y="452.14" font-size="17" text-anchor="end" fill="#000" stroke="#000" stroke-width="0.25" stroke-linejoin="round">4</text><line x1="529.8000000000001" y1="410.47" x2="534.95" y2="410.47" stroke="#1a1a1a" stroke-width="1.5"/><text x="521.40" y="415.41" font-size="17" text-anchor="end" fill="#000" stroke="#000" stroke-width="0.25" stroke-linejoin="round">5</text><line x1="529.8000000000001" y1="373.49" x2="534.95" y2="373.49" stroke="#1a1a1a" stroke-width="1.5"/><text x="521.40" y="378.68" font-size="17" text-anchor="end" fill="#000" stroke="#000" stroke-width="0.25" stroke-linejoin="round">6</text><line x1="529.8000000000001" y1="336.50" x2="534.95" y2="336.50" stroke="#1a1a1a" stroke-width="1.5"/><text x="521.40" y="341.95" font-size="17" text-anchor="end" fill="#000" stroke="#000" stroke-width="0.25" stroke-linejoin="round">7</text><text x="539.0" y="355.4" font-size="21.5" fill="#000" stroke="#000" stroke-width="0.25" stroke-linejoin="round">E</text><text x="572.0" y="367.6" font-size="17" fill="#000" stroke="#000" stroke-width="0.25" stroke-linejoin="round">ns</text><text x="559.86" y="611.6" font-size="14.5" text-anchor="middle" fill="#FF3300" stroke="#FF3300" stroke-width="0.25" stroke-linejoin="round">IR8</text><text x="585.45" y="611.6" font-size="14.6" fill="#0033CC" stroke="#0033CC" stroke-width="0.25" stroke-linejoin="round">Nipponbare</text><text transform="translate(492.2,463.7) rotate(-90)" font-size="17" text-anchor="middle" fill="#000" stroke="#000" stroke-width="0.25" stroke-linejoin="round">Shoot root ratio (g)</text></svg></div>
</body></html>
